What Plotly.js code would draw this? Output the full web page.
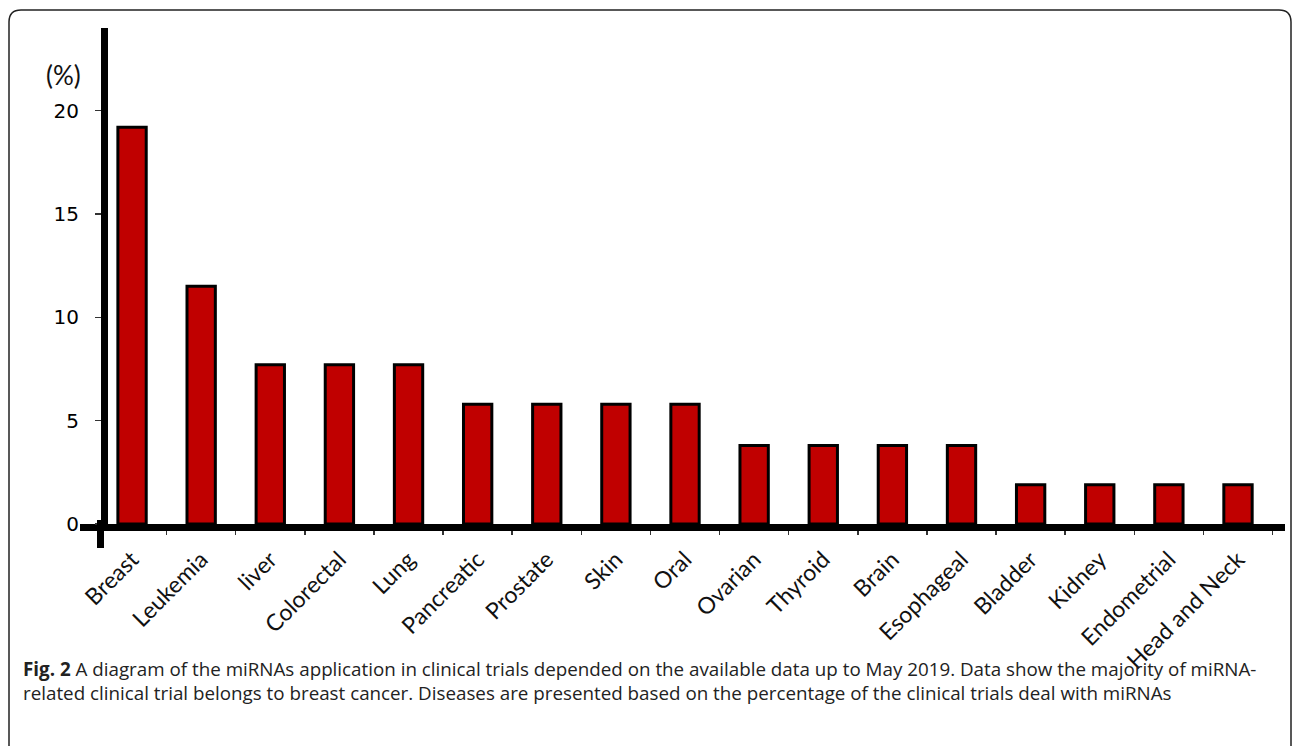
<!DOCTYPE html>
<html>
<head>
<meta charset="utf-8">
<script src="https://cdn.plot.ly/plotly-3.0.1.min.js"></script>
<style>
html,body{margin:0;padding:0;background:#fff;}
#chart{width:1292px;height:746px;}
</style>
</head>
<body>
<div id="chart"></div>
<script>
// Data
var categories = ["Breast","Leukemia","liver","Colorectal","Lung","Pancreatic","Prostate","Skin","Oral","Ovarian","Thyroid","Brain","Esophageal","Bladder","Kidney","Endometrial","Head and Neck"];
var percentValues = [19.2, 11.5, 7.7, 7.7, 7.7, 5.8, 5.8, 5.8, 5.8, 3.8, 3.8, 3.8, 3.8, 1.9, 1.9, 1.9, 1.9];
var yTickValues = [0, 5, 10, 15, 20];
var yTickLabels = ["0", "5", "10", "15", "20"];
var yUnitLabel = "(%)";
var captionBold = "Fig. 2";
var captionLines = [
  " A diagram of the miRNAs application in clinical trials depended on the available data up to May 2019. Data show the majority of miRNA-",
  "related clinical trial belongs to breast cancer. Diseases are presented based on the percentage of the clinical trials deal with miRNAs"
];

// Layout geometry (pixels)
var W = 1292, H = 746;
var mL = 80, mR = 7, mT = 28, mB = 222;
var plotW = W - mL - mR, plotH = H - mT - mB;
function px2x(px){ return (px - mL) / plotW; }
function px2y(py){ return (H - mB - py) / plotH; }

var yAxisPx = 104;

var trace = {
  type: 'bar',
  x: categories,
  y: percentValues,
  width: 0.41,
  marker: {color: '#C00000', line: {color: '#000000', width: 3}},
  hoverinfo: 'x+y'
};

// rounded frame path
var fl = 9, ft = 10, fr = 1291, fb = 780, rad = 12;
var framePath = 'M ' + px2x(fl) + ',' + px2y(fb) +
  ' L ' + px2x(fl) + ',' + px2y(ft + rad) +
  ' Q ' + px2x(fl) + ',' + px2y(ft) + ' ' + px2x(fl + rad) + ',' + px2y(ft) +
  ' L ' + px2x(fr - rad) + ',' + px2y(ft) +
  ' Q ' + px2x(fr) + ',' + px2y(ft) + ' ' + px2x(fr) + ',' + px2y(ft + rad) +
  ' L ' + px2x(fr) + ',' + px2y(fb);

var layout = {
  width: W, height: H,
  margin: {l: mL, r: mR, t: mT, b: mB, pad: 0},
  paper_bgcolor: '#ffffff',
  plot_bgcolor: '#ffffff',
  showlegend: false,
  xaxis: {
    type: 'category',
    range: [-0.753, 16.68],
    showline: true, linecolor: '#000000', linewidth: 7,
    showgrid: false, zeroline: false,
    ticks: 'outside', tickson: 'boundaries', ticklen: 4, tickwidth: 1.5, tickcolor: '#333333',
    tickangle: -45,
    ticklabelstandoff: 6,
    tickfont: {family: 'Lato, "Open Sans", sans-serif', size: 23, color: '#111111'},
    fixedrange: true
  },
  yaxis: {
    range: [0, 24],
    anchor: 'free', position: px2x(yAxisPx),
    showline: true, linecolor: '#000000', linewidth: 7,
    showgrid: false, zeroline: false,
    tickmode: 'array', tickvals: yTickValues, ticktext: yTickLabels,
    ticks: 'outside', ticklen: 6, tickwidth: 1.5, tickcolor: '#333333',
    ticklabelstandoff: 12,
    tickfont: {family: '"DejaVu Sans", Verdana, sans-serif', size: 20, color: '#000000'},
    fixedrange: true
  },
  shapes: [
    {type: 'path', xref: 'paper', yref: 'paper', path: framePath,
     line: {color: '#222222', width: 1.5}, layer: 'below'},
    {type: 'line', xref: 'paper', yref: 'paper',
     x0: px2x(100.5), x1: px2x(100.5), y0: px2y(520), y1: px2y(548),
     line: {color: '#000000', width: 7}}
  ],
  annotations: [
    {xref: 'paper', yref: 'paper', x: px2x(63), y: px2y(75), xanchor: 'center', yanchor: 'middle',
     text: yUnitLabel, showarrow: false,
     font: {family: 'Lato, "Open Sans", sans-serif', size: 26, color: '#111111'}},
    {xref: 'paper', yref: 'paper', x: px2x(21), y: px2y(681), xanchor: 'left', yanchor: 'middle', align: 'left',
     text: '<b>' + captionBold + '</b>' + captionLines[0] + '<br>' + captionLines[1], showarrow: false,
     font: {family: '"Open Sans", sans-serif', size: 18.8, color: '#222222'}}
  ]
};

Plotly.newPlot('chart', [trace], layout, {displayModeBar: false, staticPlot: true});
</script>
</body>
</html>
